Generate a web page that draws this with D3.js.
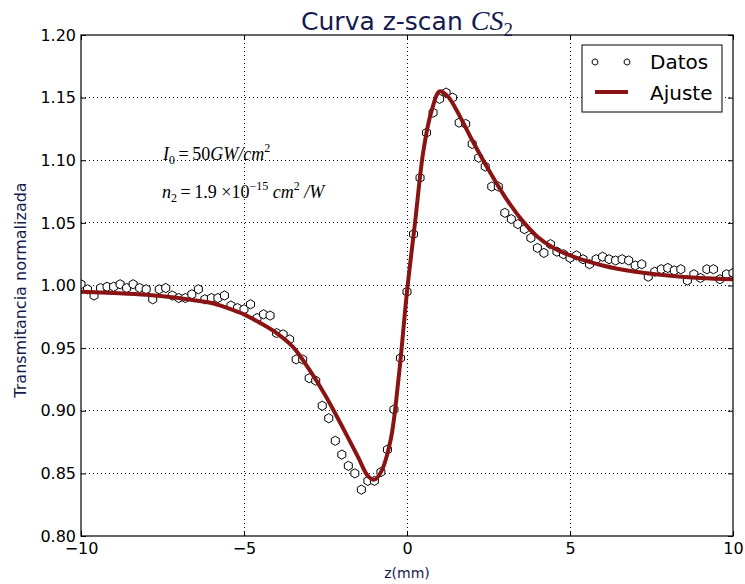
<!DOCTYPE html>
<html>
<head>
<meta charset="utf-8">
<script src="https://cdn.jsdelivr.net/npm/d3@7"></script>
<style>
body { margin: 0; background: #fff; }
svg { display: block; }
</style>
</head>
<body>
<svg id="chart" width="745" height="584"></svg>
<script>
// datos medidos (z en mm, transmitancia normalizada)
var datosZ = [-10,-9.8,-9.6,-9.4,-9.2,-9,-8.8,-8.6,-8.4,-8.2,
  -8,-7.8,-7.6,-7.4,-7.2,-7,-6.8,-6.6,-6.4,-6.2,
  -6,-5.8,-5.6,-5.4,-5.2,-5,-4.8,-4.6,-4.4,-4.2,
  -4,-3.8,-3.6,-3.4,-3.2,-3,-2.8,-2.6,-2.4,-2.2,
  -2,-1.8,-1.6,-1.4,-1.2,-1,-0.8,-0.6,-0.4,-0.2,
  0,0.2,0.4,0.6,0.8,1,1.2,1.4,1.6,1.8,
  2,2.2,2.4,2.6,2.8,3,3.2,3.4,3.6,3.8,
  4,4.2,4.4,4.6,4.8,5,5.2,5.4,5.6,5.8,
  6,6.2,6.4,6.6,6.8,7,7.2,7.4,7.6,7.8,
  8,8.2,8.4,8.6,8.8,9,9.2,9.4,9.6,9.8,
  10];
var datosT = [1.001,0.997,0.992,0.998,0.999,0.999,1.001,0.998,1.001,0.998,
  0.997,0.989,0.997,0.998,0.992,0.990,0.990,0.993,0.997,0.989,
  0.990,0.990,0.992,0.984,0.982,0.981,0.985,0.974,0.977,0.976,
  0.962,0.961,0.957,0.941,0.941,0.926,0.924,0.904,0.894,0.876,
  0.865,0.856,0.850,0.837,0.844,0.844,0.851,0.869,0.901,0.942,
  0.995,1.041,1.086,1.122,1.138,1.149,1.154,1.150,1.130,1.129,
  1.113,1.102,1.095,1.079,1.079,1.058,1.053,1.049,1.045,1.038,
  1.030,1.026,1.033,1.027,1.025,1.022,1.024,1.021,1.017,1.021,
  1.023,1.021,1.020,1.021,1.020,1.016,1.017,1.007,1.011,1.013,
  1.014,1.012,1.013,1.004,1.009,1.006,1.013,1.013,1.005,1.009,
  1.010];

// curva de ajuste
var ajusteZ = [-10,-9,-8,-7,-6,-5.5,-5,-4.5,-4,-3.5,-3,-2.5,-2,-1.5,-1.2,-1,-0.8,-0.5,-0.25,
  0,0.25,0.5,0.75,1,1.25,1.5,2,2.5,3,3.5,4,4.5,5,6,7,8,9,10];
var ajusteT = [0.995,0.994,0.9926,0.990,0.986,0.982,0.977,0.970,0.962,0.951,0.933,0.912,0.888,0.863,0.848,0.845,0.851,0.877,0.928,
  0.995,1.051,1.107,1.139,1.155,1.151,1.141,1.116,1.0925,1.071,1.053,1.039,1.030,1.024,1.016,1.011,1.008,1.006,1.005];

var xTicks = [-10, -5, 0, 5, 10];
var yTicks = [0.80, 0.85, 0.90, 0.95, 1.00, 1.05, 1.10, 1.15, 1.20];

var navy = "#141a4c";
var rojo = "#8a1414";
var mIzq = 81, mDer = 733, mSup = 35, mInf = 536;

var svg = d3.select("#chart");
var x = d3.scaleLinear().domain([-10, 10]).range([mIzq, mDer]);
var y = d3.scaleLinear().domain([0.80, 1.20]).range([mInf, mSup]);

svg.append("defs").append("clipPath").attr("id", "clip")
  .append("rect").attr("x", mIzq).attr("y", mSup)
  .attr("width", mDer - mIzq).attr("height", mInf - mSup);

// grid punteado
var grid = svg.append("g");
grid.selectAll("line.gx").data(xTicks.slice(1, -1)).enter().append("line")
  .attr("x1", function(d){ return x(d); }).attr("x2", function(d){ return x(d); })
  .attr("y1", mSup).attr("y2", mInf);
grid.selectAll("line.gy").data(yTicks.slice(1, -1)).enter().append("line")
  .attr("y1", function(d){ return y(d); }).attr("y2", function(d){ return y(d); })
  .attr("x1", mIzq).attr("x2", mDer);
grid.selectAll("line").attr("stroke", "#000").attr("stroke-width", 1)
  .attr("stroke-dasharray", "1,3").attr("shape-rendering", "crispEdges");

// ejes
function estilo(g, labels) {
  g.select(".domain").remove();
  g.selectAll(".tick line").attr("stroke", "#000");
  g.selectAll(".tick text").attr("fill", "#000")
    .style("font-family", "'DejaVu Sans'").style("font-size", "16px");
  if (!labels) g.selectAll(".tick text").remove();
}
svg.append("g").attr("transform", "translate(0," + mInf + ")")
  .call(d3.axisBottom(x).tickValues(xTicks).tickSize(-5).tickPadding(7))
  .call(estilo, true);
svg.append("g").attr("transform", "translate(0," + mSup + ")")
  .call(d3.axisTop(x).tickValues(xTicks).tickSize(-5))
  .call(estilo, false);
svg.append("g").attr("transform", "translate(" + mIzq + ",0)")
  .call(d3.axisLeft(y).tickValues(yTicks).tickFormat(d3.format(".2f")).tickSize(-5).tickPadding(5))
  .call(estilo, true);
svg.append("g").attr("transform", "translate(" + mDer + ",0)")
  .call(d3.axisRight(y).tickValues(yTicks).tickSize(-5))
  .call(estilo, false);

// hexagono
var hexagono = function(r) {
  return d3.lineRadial().curve(d3.curveLinearClosed)
    .angle(function(d){ return d; }).radius(r)(d3.range(6).map(function(k){ return k * Math.PI / 3; }));
};

var plot = svg.append("g").attr("clip-path", "url(#clip)");
plot.selectAll("path.dato").data(datosZ).enter().append("path")
  .attr("class", "dato")
  .attr("transform", function(d, i){ return "translate(" + x(d) + "," + y(datosT[i]) + ")"; })
  .attr("d", hexagono(4.6))
  .attr("fill", "#fff").attr("stroke", "#000").attr("stroke-width", 1);

var linea = d3.line()
  .x(function(d){ return x(d); })
  .y(function(d, i){ return y(ajusteT[i]); })
  .curve(d3.curveCatmullRom.alpha(0.5));
plot.append("path").attr("d", linea(ajusteZ))
  .attr("fill", "none").attr("stroke", rojo).attr("stroke-width", 4)
  .attr("stroke-linejoin", "round");

// marco
svg.append("rect").attr("x", mIzq).attr("y", mSup)
  .attr("width", mDer - mIzq).attr("height", mInf - mSup)
  .attr("fill", "none").attr("stroke", "#000").attr("stroke-width", 1.2);

// titulo
var titulo = svg.append("text").attr("x", 407).attr("y", 30)
  .attr("text-anchor", "middle").attr("fill", navy);
titulo.append("tspan").style("font-family", "'DejaVu Sans'").style("font-size", "25px").text("Curva z-scan ");
titulo.append("tspan").style("font-family", "'Liberation Serif'").style("font-style", "italic").style("font-size", "28px").text("CS");
titulo.append("tspan").attr("dy", 6).style("font-family", "'Liberation Serif'").style("font-size", "19px").text("2");

// etiquetas de ejes
svg.append("text").attr("x", 407).attr("y", 578).attr("text-anchor", "middle")
  .attr("fill", navy).style("font-family", "'DejaVu Sans'").style("font-size", "14px").text("z(mm)");
svg.append("text").attr("transform", "translate(26,290) rotate(-90)").attr("text-anchor", "middle")
  .attr("fill", navy).style("font-family", "'DejaVu Sans'").style("font-size", "16px").text("Transmitancia normalizada");

// anotaciones
var serif = "'Liberation Serif'";
var a1 = svg.append("text").attr("x", 163).attr("y", 160).attr("fill", "#000")
  .style("font-family", serif).style("font-size", "18px");
a1.append("tspan").style("font-style", "italic").text("I");
a1.append("tspan").attr("dy", 4).style("font-size", "12px").text("0");
a1.append("tspan").attr("dy", -4).text("\u2009=\u200950");
a1.append("tspan").style("font-style", "italic").text("GW/cm");
a1.append("tspan").attr("dy", -8).style("font-size", "12px").text("2");

var a2 = svg.append("text").attr("x", 162).attr("y", 198).attr("fill", "#000")
  .style("font-family", serif).style("font-size", "18px");
a2.append("tspan").style("font-style", "italic").text("n");
a2.append("tspan").attr("dy", 4).style("font-size", "12px").text("2");
a2.append("tspan").attr("dy", -4).text("\u2009=\u20091.9 \u00d710");
a2.append("tspan").attr("dy", -8).style("font-size", "12px").text("\u221215");
a2.append("tspan").attr("dy", 8).style("font-style", "italic").text(" cm");
a2.append("tspan").attr("dy", -8).style("font-size", "12px").text("2");
a2.append("tspan").attr("dy", 8).style("font-style", "italic").text(" /W");

// leyenda
var leg = svg.append("g");
leg.append("rect").attr("x", 582).attr("y", 45).attr("width", 140).attr("height", 67)
  .attr("fill", "#fff").attr("stroke", "#000").attr("stroke-width", 1);
leg.selectAll("path.lm").data([595, 627]).enter().append("path")
  .attr("transform", function(d){ return "translate(" + d + ",62)"; })
  .attr("d", hexagono(3.2)).attr("fill", "#fff").attr("stroke", "#000").attr("stroke-width", 1);
leg.append("line").attr("x1", 595).attr("x2", 628).attr("y1", 92).attr("y2", 92)
  .attr("stroke", rojo).attr("stroke-width", 4);
leg.append("text").attr("x", 650).attr("y", 69).text("Datos");
leg.append("text").attr("x", 650).attr("y", 100).text("Ajuste");
leg.selectAll("text").attr("fill", "#000").style("font-family", "'DejaVu Sans'").style("font-size", "20px");
</script>
</body>
</html>
